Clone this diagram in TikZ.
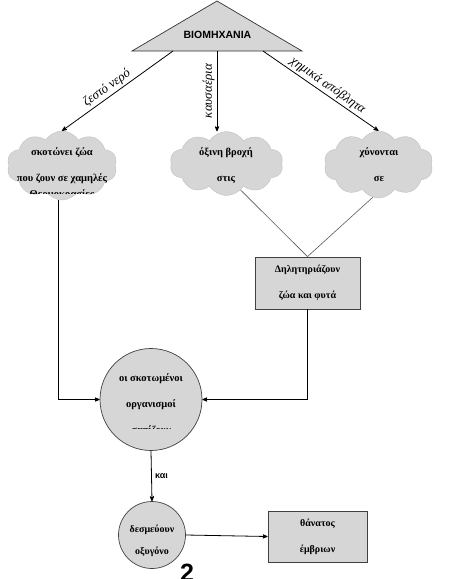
\documentclass[tikz,border=0pt]{standalone}
\usepackage{fontspec}
\setmainfont{Liberation Serif}
\setsansfont{Liberation Sans}
\usetikzlibrary{arrows, shapes.symbols}
\definecolor{shade}{HTML}{D6D6D6}
\tikzset{
  >=stealth', % small filled arrow heads
  flow/.style={->, line width=0.8pt}, % the black arrows
  tie/.style={draw=black!65, line width=0.6pt}, % thin grey joining lines
  puff/.style={cloud, cloud puffs=10, cloud puff arc=115, cloud ignores aspect, fill=shade, draw=shade!90!black, inner sep=0pt}, % clouds
  box/.style={rectangle, draw=black!75, fill=shade, line width=0.8pt, align=center, font=\bfseries\fontsize{10}{26}\selectfont}, % grey boxes
  blob/.style={circle, draw=black!75, fill=shade, line width=0.7pt, inner sep=0pt}, % grey circles
  txt/.style={font=\bfseries\fontsize{10.5}{26}\selectfont, align=center, inner sep=0pt}, % text on the shapes
  say/.style={font=\itshape\fontsize{13}{14}\selectfont, anchor=south, inner sep=2pt}, % arrow labels
}

\begin{document}
\begin{tikzpicture}[x=1pt, y=-1pt]
  \useasboundingbox (0,0) rectangle (450,579);

  % industry
  \draw[fill=shade, draw=black!80, line width=0.7pt] (217,1) -- (302,51) -- (132,51) -- cycle;
  \node[font=\sffamily\bfseries\fontsize{10.5}{12}\selectfont] (ind) at (217.5,35) {ΒΙΟΜΗΧΑΝΙΑ};
  \coordinate (t1) at (173,51);
  \coordinate (t2) at (217,51);
  \coordinate (t3) at (263,51);

  % clouds
  \node[puff, minimum width=110pt, minimum height=69pt] (c1) at (62,165.5) {};
  \node[puff, minimum width=113pt, minimum height=64pt] (c2) at (226.5,163.5) {};
  \node[puff, minimum width=109pt, minimum height=67pt] (c3) at (378.5,164.5) {};
  \node[txt] (c1t) at (62,166) {σκοτώνει ζώα\\που ζουν σε χαμηλές};
  \node[txt] (c2t) at (226,166) {όξινη βροχή\\στις};
  \node[txt] (c3t) at (379,165) {χύνονται\\σε};
  \begin{scope}
    \clip (10,185) rectangle (115,193);
    \node[txt] (c1x) at (62,195) {Θερμοκρασίες};
  \end{scope}

  % boxes and circles
  \node[box, minimum width=105pt, minimum height=52pt] (r1) at (307.5,283) {Δηλητηριάζουν\\ζώα και φυτά};
  \node[blob, minimum size=102pt] (big) at (151,399.5) {};
  \node[txt] (bigt) at (151,392) {οι σκοτωμένοι\\οργανισμοί};
  \begin{scope}
    \clip (110,420) rectangle (195,428);
    \node[txt] (bigx) at (151,431) {σαπίζουν};
  \end{scope}
  \node[blob, minimum size=67pt] (small) at (152,535) {};
  \node[txt, font=\bfseries\fontsize{10}{22}\selectfont] (smallt) at (152,541) {δεσμεύουν\\οξυγόνο};
  \node[box, minimum width=99pt, minimum height=51pt] (r2) at (317.5,536.5) {θάνατος\\έμβριων};
  \node[font=\sffamily\bfseries\upshape\fontsize{25}{25}\selectfont] (two) at (187,573) {2};

  % arrows from the industry
  \draw (t1) edge[flow] node[say, rotate=36, pos=0.55] {ζεστό νερό} (c1.north);
  \draw (t2) edge[flow] node[say, rotate=90, pos=0.5] {καυσαέρια} (t2 |- c2.north);
  \draw (t3) edge[flow] node[say, rotate=-35, pos=0.52] {χημικά απόβλητα} (c3.north);

  % into the box
  \draw[tie] (c2.-62) -- (r1.north);
  \draw[tie] (c3.-100) -- (r1.north);

  % into the big circle
  \coordinate (k1) at (58,399.5);
  \draw[flow] (c1.south -| k1) -- (k1) -- (big.west);
  \draw[flow] (r1.south) -- (r1.south |- big.east) -- (big.east);

  \draw (big.south) edge[flow] node[right, font=\sffamily\bfseries\fontsize{9}{10}\selectfont] {και} (small.north);
  \draw (small.east) edge[flow] (r2.west);
\end{tikzpicture}
\end{document}
